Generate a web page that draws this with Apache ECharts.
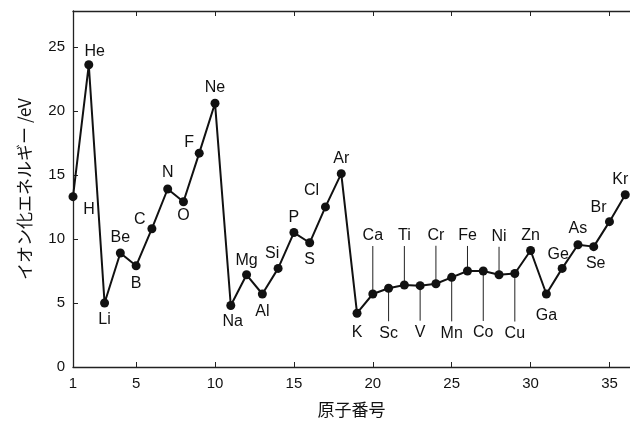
<!DOCTYPE html>
<html><head><meta charset="utf-8">
<script src="https://cdn.jsdelivr.net/npm/echarts@6/dist/echarts.min.js"></script>
<style>html,body{margin:0;padding:0;background:#fff}#c{width:630px;height:422px}</style>
</head><body><div id="c"></div>
<script>
const atomicNumbers = [1,2,3,4,5,6,7,8,9,10,11,12,13,14,15,16,17,18,19,20,21,22,23,24,25,26,27,28,29,30,31,32,33,34,35,36];
const elements = ['H','He','Li','Be','B','C','N','O','F','Ne','Na','Mg','Al','Si','P','S','Cl','Ar','K','Ca','Sc','Ti','V','Cr','Mn','Fe','Co','Ni','Cu','Zn','Ga','Ge','As','Se','Br','Kr'];
const ionizationEnergy = [13.3,23.6,5.0,8.9,7.9,10.8,13.9,12.9,16.7,20.6,4.8,7.2,5.7,7.7,10.5,9.7,12.5,15.1,4.2,5.7,6.15,6.4,6.35,6.5,7.0,7.5,7.5,7.2,7.3,9.1,5.7,7.7,9.55,9.4,11.35,13.45];
const xTicks = [1,5,10,15,20,25,30,35];
const yTicks = [0,5,10,15,20,25];

// label placement style (pixel offset from point, leader line flag)
const labelPlacement = [
  [16,13,0],[6,-13,0],[0,17,0],[0,-15,0],[0,18,0],[-12,-9,0],[0,-16,0],[0,14,0],[-10,-11,0],[0,-16,0],
  [2,16,0],[0,-14,0],[0,18,0],[-6,-15,0],[0,-15,0],[0,17,0],[-14,-16,0],[0,-15,0],
  [0,19,0],[0,-58,1],[0,45,1],[0,-49,1],[0,47,1],[0,-48,1],[0,56,1],[0,-35,1],[0,62,1],[0,-38,1],[0,60,1],
  [0,-15,0],[0,22,0],[-4,-14,0],[0,-16,0],[2,17,0],[-11,-14,0],[-5,-15,0]
];

const FONT = '"Liberation Sans", Arial, "Noto Sans CJK JP", sans-serif';
const pts = atomicNumbers.map((x, i) => [x, ionizationEnergy[i]]);

const chart = echarts.init(document.getElementById('c'), null, {renderer: 'canvas'});
const axisLineStyle = {color: '#222', width: 1.3};
chart.setOption({
  animation: false,
  backgroundColor: '#fff',
  grid: {left: 73, right: 0, top: 11, bottom: 55, containLabel: false, outerBoundsMode: 'none'},
  xAxis: [{
    type: 'value', min: 1, max: 36.3, position: 'bottom',
    axisLine: {show: true, lineStyle: axisLineStyle},
    axisTick: {show: true, inside: true, length: 5, customValues: xTicks, lineStyle: {color: '#222'}},
    axisLabel: {customValues: xTicks, fontSize: 15, color: '#111', margin: 9, fontFamily: FONT},
    splitLine: {show: false},
    name: '原子番号', nameLocation: 'middle', nameGap: 34,
    nameTextStyle: {fontSize: 17, color: '#111', fontFamily: '"Noto Sans CJK JP", sans-serif'}
  }, {
    type: 'value', min: 1, max: 36.3, position: 'top',
    axisLine: {show: true, lineStyle: axisLineStyle},
    axisTick: {show: true, inside: true, length: 5, customValues: xTicks, lineStyle: {color: '#222'}},
    axisLabel: {show: false},
    splitLine: {show: false}
  }],
  yAxis: {
    type: 'value', min: 0, max: 27.8,
    axisLine: {show: true, lineStyle: axisLineStyle},
    axisTick: {show: true, inside: true, length: 5, customValues: yTicks, lineStyle: {color: '#222'}},
    axisLabel: {customValues: yTicks, fontSize: 15, color: '#111', margin: 8, fontFamily: FONT},
    splitLine: {show: false},
    name: 'イオン化エネルギー /eV', nameLocation: 'middle', nameGap: 40, nameRotate: 90,
    nameTextStyle: {fontSize: 17, color: '#111', fontFamily: '"Noto Sans CJK JP", sans-serif'}
  },
  series: [{
    type: 'custom',
    xAxisIndex: 0,
    data: pts,
    z: 1,
    clip: false,
    renderItem: function (params, api) {
      const i = params.dataIndex;
      const p = api.coord([api.value(0), api.value(1)]);
      const pl = labelPlacement[i];
      const lx = p[0] + pl[0], ly = p[1] + pl[1];
      const children = [{
        type: 'text', x: lx, y: ly,
        style: {text: elements[i], align: 'center', verticalAlign: 'middle', fontSize: 16, fontFamily: FONT, fill: '#111'}
      }];
      if (pl[2]) {
        const y1 = pl[1] < 0 ? ly + 10 : ly - 12;
        children.push({type: 'line', shape: {x1: p[0], y1: y1, x2: p[0], y2: p[1]}, style: {stroke: '#222', lineWidth: 1}});
      }
      return {type: 'group', children: children};
    }
  }, {
    type: 'line',
    xAxisIndex: 0,
    data: pts,
    z: 3,
    symbol: 'circle',
    symbolSize: 9,
    lineStyle: {color: '#111', width: 2},
    itemStyle: {color: '#111'}
  }]
});
</script>
</body></html>
